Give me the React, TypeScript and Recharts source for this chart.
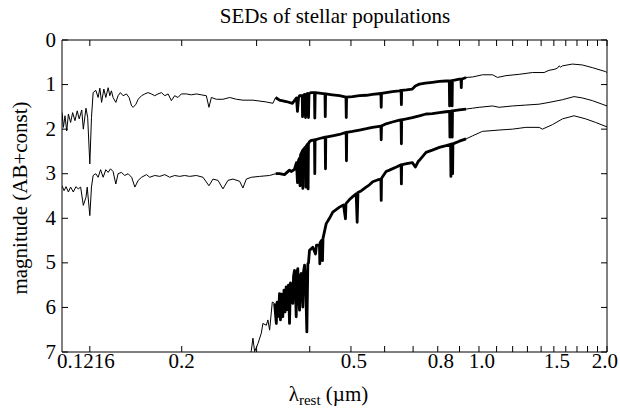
import { Line, LineChart, XAxis, YAxis } from 'recharts'

type Pt = [number, number]

// [wavelength in µm, magnitude]
const youngUV: Pt[] = [
  [0.1046, 1.63], [0.1054, 1.96], [0.1063, 1.7], [0.1073, 2.04], [0.1083, 1.66], [0.1096, 1.85],
  [0.1108, 1.63], [0.1122, 1.81], [0.1136, 1.59], [0.1148, 1.77], [0.1164, 1.57], [0.1174, 2.0],
  [0.1191, 1.53], [0.1202, 1.74], [0.1216, 2.78], [0.1227, 1.74], [0.1238, 1.18], [0.1256, 1.13],
  [0.1272, 1.29], [0.1284, 1.08], [0.1296, 1.4], [0.1312, 1.1], [0.1326, 1.29], [0.1343, 1.07],
  [0.1355, 1.25], [0.1367, 1.14], [0.1379, 1.29], [0.14, 1.4], [0.1417, 1.25], [0.1435, 1.18],
  [0.1456, 1.25], [0.1483, 1.21], [0.1504, 1.29], [0.1525, 1.48], [0.1538, 1.51], [0.1561, 1.44],
  [0.158, 1.33], [0.1609, 1.25], [0.1638, 1.21], [0.1667, 1.18], [0.1697, 1.21], [0.1728, 1.25],
  [0.1759, 1.21], [0.1792, 1.18], [0.1825, 1.25], [0.1858, 1.21], [0.1891, 1.36], [0.1925, 1.25],
  [0.196, 1.29], [0.1996, 1.21], [0.2051, 1.21], [0.2107, 1.23], [0.2165, 1.21], [0.2224, 1.23],
  [0.2285, 1.25], [0.2318, 1.51], [0.2348, 1.29], [0.2413, 1.33], [0.25, 1.33], [0.2593, 1.29],
  [0.2689, 1.33], [0.2786, 1.35], [0.2941, 1.35], [0.3161, 1.39], [0.3277, 1.42], [0.3325, 1.29],
]

const youngOpt: Pt[] = [
  [0.3325, 1.29], [0.3396, 1.35], [0.3521, 1.38], [0.3644, 1.42], [0.3723, 1.3], [0.3743, 1.6],
  [0.3764, 1.3], [0.3785, 1.25], [0.3841, 1.25], [0.3847, 1.72], [0.3858, 1.25], [0.3889, 1.22],
  [0.391, 1.74], [0.3921, 1.22], [0.3952, 1.2], [0.3973, 1.74], [0.3984, 1.2], [0.4032, 1.18],
  [0.4104, 1.18], [0.4111, 1.75], [0.412, 1.18], [0.4217, 1.19], [0.4344, 1.21], [0.4351, 1.72],
  [0.4358, 1.21], [0.4524, 1.23], [0.4699, 1.25], [0.4867, 1.28], [0.4875, 1.74], [0.4883, 1.28],
  [0.5041, 1.27], [0.5235, 1.25], [0.5437, 1.24], [0.5617, 1.22], [0.588, 1.2], [0.589, 1.51],
  [0.59, 1.2], [0.6048, 1.18], [0.6258, 1.16], [0.6499, 1.14], [0.6559, 1.13], [0.657, 1.45],
  [0.658, 1.13], [0.675, 1.12], [0.6971, 1.1], [0.7085, 1.03], [0.7241, 0.99], [0.748, 0.97],
  [0.7768, 0.95], [0.8069, 0.93], [0.8367, 0.92], [0.8516, 0.92], [0.853, 1.48], [0.8544, 0.92],
  [0.8632, 0.91], [0.8646, 1.48], [0.866, 0.91], [0.8989, 0.88], [0.9072, 0.88], [0.9087, 1.07],
  [0.9101, 0.88], [0.9321, 0.84],
]

const youngIR: Pt[] = [
  [0.9321, 0.84], [0.966, 0.83], [1.019, 0.78], [1.0759, 0.78], [1.1054, 0.84], [1.1568, 0.8],
  [1.2429, 0.77], [1.3357, 0.73], [1.4228, 0.73], [1.4616, 0.68], [1.5017, 0.66], [1.53, 0.63],
  [1.5432, 0.58], [1.556, 0.61], [1.571, 0.58], [1.6583, 0.54], [1.7505, 0.56], [1.8471, 0.62],
  [1.986, 0.71], [2.0, 0.73],
]

const midUV: Pt[] = [
  [0.1046, 3.27], [0.1058, 3.38], [0.1069, 3.29], [0.1083, 3.41], [0.1096, 3.3], [0.1112, 3.41],
  [0.1128, 3.29], [0.1142, 3.34], [0.1157, 3.3], [0.1174, 3.71], [0.1191, 3.53], [0.1199, 3.3],
  [0.1216, 3.94], [0.1227, 3.3], [0.1238, 3.04], [0.1256, 3.0], [0.1272, 3.08], [0.1289, 2.91],
  [0.1307, 3.08], [0.1326, 2.91], [0.1343, 2.97], [0.136, 2.89], [0.1379, 2.95], [0.14, 3.23],
  [0.1417, 3.0], [0.1443, 2.97], [0.1469, 3.04], [0.1496, 3.0], [0.1525, 3.08], [0.1552, 3.3],
  [0.158, 3.15], [0.1609, 3.08], [0.1653, 3.02], [0.1682, 3.08], [0.1728, 3.04], [0.1776, 3.06],
  [0.1825, 3.02], [0.1874, 3.08], [0.1925, 3.04], [0.1978, 3.06], [0.2032, 3.04], [0.2088, 3.06],
  [0.2165, 3.04], [0.2244, 3.08], [0.2318, 3.27], [0.2369, 3.12], [0.2434, 3.15], [0.25, 3.34],
  [0.2569, 3.15], [0.264, 3.12], [0.2737, 3.17], [0.2786, 3.32], [0.2838, 3.12], [0.2916, 3.08],
  [0.3049, 3.06], [0.3219, 3.04], [0.3325, 3.0],
]

const midOpt: Pt[] = [
  [0.3325, 3.0], [0.3396, 3.0], [0.3489, 3.02], [0.3585, 2.92], [0.3624, 2.95], [0.3683, 2.9],
  [0.3723, 2.75], [0.3743, 3.2], [0.3764, 2.7], [0.3785, 2.65], [0.3795, 3.27], [0.3805, 2.58],
  [0.3847, 2.48], [0.3853, 3.33], [0.3861, 2.46], [0.391, 2.4], [0.3916, 3.3], [0.3925, 2.38],
  [0.3959, 2.33], [0.3965, 3.34], [0.3972, 2.33], [0.3995, 2.28], [0.4039, 2.25], [0.4104, 2.24],
  [0.4111, 3.0], [0.4118, 2.24], [0.4217, 2.21], [0.4349, 2.18], [0.4356, 2.89], [0.4363, 2.18],
  [0.4524, 2.15], [0.4699, 2.12], [0.4872, 2.07], [0.488, 2.71], [0.4888, 2.07], [0.5041, 2.05],
  [0.5235, 2.02], [0.5437, 1.99], [0.5617, 1.96], [0.588, 1.93], [0.589, 2.24], [0.59, 1.93],
  [0.6048, 1.88], [0.6258, 1.84], [0.6499, 1.8], [0.6559, 1.79], [0.657, 2.33], [0.658, 1.79],
  [0.675, 1.77], [0.6971, 1.74], [0.7241, 1.7], [0.7508, 1.66], [0.7768, 1.65], [0.8069, 1.63],
  [0.8367, 1.61], [0.853, 1.6], [0.8544, 2.18], [0.8558, 1.6], [0.8637, 1.59], [0.8651, 2.18],
  [0.8665, 1.59], [0.8989, 1.57], [0.9321, 1.55],
]

const midIR: Pt[] = [
  [0.9321, 1.55], [0.966, 1.53], [1.001, 1.51], [1.0759, 1.48], [1.1156, 1.51], [1.1989, 1.48],
  [1.2888, 1.46], [1.3849, 1.44], [1.4616, 1.4], [1.571, 1.34], [1.6736, 1.27], [1.7505, 1.3],
  [1.8471, 1.36], [2.0, 1.48],
]

const oldUV: Pt[] = [
  [0.2858, 7.3], [0.2916, 6.96], [0.2941, 6.69], [0.2968, 6.99], [0.3022, 6.81], [0.3077, 6.58],
  [0.3104, 6.36], [0.3162, 6.4], [0.3189, 6.28], [0.3219, 6.51], [0.3266, 5.88], [0.3307, 5.91],
]

const oldOpt: Pt[] = [
  [0.3307, 5.91], [0.3338, 6.36], [0.3352, 5.88], [0.3379, 6.2], [0.3396, 5.69], [0.3414, 6.28],
  [0.3433, 5.7], [0.3457, 6.21], [0.348, 5.61], [0.3499, 6.1], [0.3521, 5.54], [0.3546, 6.05],
  [0.3565, 5.5], [0.3585, 6.36], [0.3604, 5.45], [0.3618, 5.8], [0.365, 5.91], [0.3664, 5.3],
  [0.3683, 5.17], [0.3703, 5.6], [0.3717, 6.21], [0.3733, 5.2], [0.375, 5.13], [0.3764, 5.7],
  [0.3785, 6.06], [0.3801, 5.3], [0.382, 5.24], [0.3836, 5.6], [0.3853, 5.99], [0.3868, 5.2],
  [0.3889, 5.05], [0.391, 5.4], [0.3938, 6.55], [0.3959, 5.02], [0.3973, 5.0], [0.3995, 4.72],
  [0.4067, 4.65], [0.4127, 4.8], [0.4149, 4.6], [0.4217, 4.6], [0.4224, 5.02], [0.4231, 4.55],
  [0.4263, 4.5], [0.4286, 4.95], [0.4298, 4.45], [0.4373, 4.12], [0.4451, 4.0], [0.4531, 3.86],
  [0.4623, 3.8], [0.4699, 3.75], [0.4802, 3.7], [0.4854, 4.01], [0.4867, 3.67], [0.496, 3.58],
  [0.5041, 3.52], [0.5143, 3.45], [0.5171, 4.09], [0.5193, 3.42], [0.5292, 3.38], [0.5428, 3.3],
  [0.5526, 3.25], [0.5625, 3.18], [0.577, 3.14], [0.588, 3.12], [0.589, 3.6], [0.59, 3.1],
  [0.6048, 2.95], [0.6157, 2.92], [0.6395, 2.85], [0.6559, 2.8], [0.657, 3.23], [0.658, 2.8],
  [0.6713, 2.78], [0.6971, 2.75], [0.7085, 2.85], [0.7201, 2.72], [0.7241, 2.7], [0.7508, 2.52],
  [0.7768, 2.47], [0.8069, 2.41], [0.8367, 2.37], [0.8576, 2.34], [0.859, 3.06], [0.8604, 2.34],
  [0.8656, 2.33], [0.867, 3.0], [0.8684, 2.33], [0.8989, 2.27], [0.9321, 2.22],
]

const oldIR: Pt[] = [
  [0.9321, 2.22], [0.966, 2.15], [1.019, 2.05], [1.1156, 2.02], [1.1989, 2.0], [1.2888, 1.96],
  [1.3849, 1.96], [1.4098, 2.0], [1.4879, 1.9], [1.571, 1.77], [1.6736, 1.7], [1.783, 1.77],
  [1.8814, 1.85], [2.0, 1.95],
]

const X_TICKS = [0.1216, 0.2, 0.3, 0.4, 0.5, 0.6, 0.7, 0.8, 0.9, 1.0, 1.1, 1.2, 1.3, 1.4, 1.5, 1.6, 1.7, 1.8, 1.9, 2.0]
const X_LABELS: Record<string, string> = {
  '0.1216': '0.1216',
  '0.2': '0.2',
  '0.5': '0.5',
  '0.8': '0.8',
  '1': '1.0',
  '1.5': '1.5',
  '2': '2.0',
}
const Y_TICKS = [0, 1, 2, 3, 4, 5, 6, 7]

const X_DOMAIN: [number, number] = [0.1046, 2]
const Y_DOMAIN: [number, number] = [0, 7]

const FONT = "'Liberation Serif', 'Times New Roman', serif"
const FS = 21

const toRows = (pts: Pt[]) => pts.map(([lam, mag]) => ({ lam, mag }))

const SEGMENTS = [
  { id: 'youngUV', pts: youngUV, dense: false },
  { id: 'youngOpt', pts: youngOpt, dense: true },
  { id: 'youngIR', pts: youngIR, dense: false },
  { id: 'midUV', pts: midUV, dense: false },
  { id: 'midOpt', pts: midOpt, dense: true },
  { id: 'midIR', pts: midIR, dense: false },
  { id: 'oldUV', pts: oldUV, dense: false },
  { id: 'oldOpt', pts: oldOpt, dense: true },
  { id: 'oldIR', pts: oldIR, dense: false },
]

function BottomTick({ x, y, payload }: any) {
  const label = X_LABELS[String(payload.value)]
  const isLast = payload.value === X_DOMAIN[1]
  // gnuplot-style labels sit a touch right of their ticks, except the leftmost;
  // the last one is pinned to the right edge so it stays in the window
  const dx = payload.value < 0.15 ? -4 : payload.value < 0.3 ? 0 : 3
  return (
    <g>
      <line x1={x} x2={x} y1={y} y2={y - 6} stroke="#000" />
      {label && (
        <text
          x={isLast ? x + 11 : x + dx}
          y={y + 16}
          textAnchor={isLast ? 'end' : 'middle'}
          fontSize={FS}
          fontFamily={FONT}
          fill="#000"
        >
          {label}
        </text>
      )}
    </g>
  )
}

function TopTick({ x, y }: any) {
  return <line x1={x} x2={x} y1={y} y2={y + 6} stroke="#000" />
}

function LeftTick({ x, y, payload }: any) {
  return (
    <g>
      <line x1={x} x2={x + 6} y1={y} y2={y} stroke="#000" />
      <text x={x - 6} y={y + 6.6} textAnchor="end" fontSize={FS} fontFamily={FONT} fill="#000">
        {payload.value}
      </text>
    </g>
  )
}

function RightTick({ x, y }: any) {
  return <line x1={x} x2={x - 6} y1={y} y2={y} stroke="#000" />
}

function XTitle({ viewBox }: any) {
  const cx = viewBox.x + viewBox.width / 2
  return (
    <text x={cx - 6} y={viewBox.y + 49} textAnchor="middle" fontSize={FS} fontFamily={FONT} fill="#000">
      λ
      <tspan fontSize={15} dy={4}>rest</tspan>
      <tspan dy={-4}> (µm)</tspan>
    </text>
  )
}

function YTitle({ viewBox }: any) {
  const cy = viewBox.y + viewBox.height / 2 + 2
  const x = 27
  return (
    <text
      x={x}
      y={cy}
      transform={`rotate(-90, ${x}, ${cy})`}
      textAnchor="middle"
      fontSize={FS}
      fontFamily={FONT}
      fill="#000"
    >
      magnitude (AB+const)
    </text>
  )
}

export default function App() {
  return (
    <div style={{ position: 'relative', width: 620, height: 409 }}>
      <style>{'html, body { margin: 0; overflow: hidden; }'}</style>
      <div
        style={{
          position: 'absolute',
          top: 4,
          left: 62,
          width: 546,
          textAlign: 'center',
          fontFamily: FONT,
          fontSize: FS,
          color: '#000',
          zIndex: 1,
        }}
      >
        SEDs of stellar populations
      </div>
      <LineChart width={620} height={409} margin={{ top: 39, right: 12, left: 0, bottom: 0 }}>
        <XAxis
          dataKey="lam"
          type="number"
          scale="log"
          domain={X_DOMAIN}
          allowDataOverflow
          ticks={X_TICKS}
          interval={0}
          tickSize={0}
          tickMargin={0}
          tickLine={false}
          tick={<BottomTick />}
          axisLine={{ stroke: '#000' }}
          height={57}
          label={<XTitle />}
        />
        <XAxis
          xAxisId="top"
          orientation="top"
          dataKey="lam"
          type="number"
          scale="log"
          domain={X_DOMAIN}
          allowDataOverflow
          ticks={X_TICKS}
          interval={0}
          tickSize={0}
          tickMargin={0}
          tickLine={false}
          tick={<TopTick />}
          axisLine={{ stroke: '#000' }}
          height={1}
        />
        <YAxis
          type="number"
          domain={Y_DOMAIN}
          reversed
          allowDataOverflow
          ticks={Y_TICKS}
          interval={0}
          tickSize={0}
          tickMargin={0}
          tickLine={false}
          tick={<LeftTick />}
          axisLine={{ stroke: '#000' }}
          width={62}
          label={<YTitle />}
        />
        <YAxis
          yAxisId="right"
          orientation="right"
          type="number"
          domain={Y_DOMAIN}
          reversed
          allowDataOverflow
          ticks={Y_TICKS}
          interval={0}
          tickSize={0}
          tickMargin={0}
          tickLine={false}
          tick={<RightTick />}
          axisLine={{ stroke: '#000' }}
          width={1}
        />
        {/* invisible copy so the mirrored frame axes get a series to hang on */}
        <Line
          xAxisId="top"
          yAxisId="right"
          data={toRows(youngIR)}
          dataKey="mag"
          stroke="none"
          dot={false}
          activeDot={false}
          isAnimationActive={false}
        />
        {SEGMENTS.map((s) => (
          <Line
            key={s.id}
            data={toRows(s.pts)}
            dataKey="mag"
            type="linear"
            stroke="#000"
            strokeWidth={s.dense ? 2.8 : 1}
            strokeLinejoin="round"
            dot={false}
            activeDot={false}
            isAnimationActive={false}
          />
        ))}
      </LineChart>
    </div>
  )
}
